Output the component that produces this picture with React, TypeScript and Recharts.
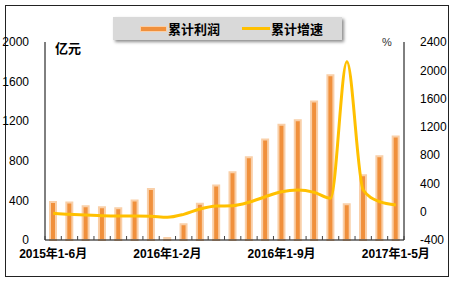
import { ComposedChart, Bar, Line, XAxis, YAxis } from "recharts";

const categories = [
  "2015年1-6月", "2015年1-7月", "2015年1-8月", "2015年1-9月", "2015年1-10月", "2015年1-11月", "2015年1-12月",
  "2016年1-2月", "2016年1-3月", "2016年1-4月", "2016年1-5月", "2016年1-6月", "2016年1-7月", "2016年1-8月",
  "2016年1-9月", "2016年1-10月", "2016年1-11月", "2016年1-12月",
  "2017年1-2月", "2017年1-3月", "2017年1-4月", "2017年1-5月",
];
const profit = [385, 380, 340, 330, 320, 400, 515, 20, 158, 365, 550, 685, 835, 1015, 1165, 1210, 1400, 1665, 362, 655, 845, 1045];
const growth = [-20, -37, -46, -56, -60, -60, -65, -79, -37, 38, 80, 85, 133, 212, 283, 307, 274, 190, 2120, 307, 142, 95];
const leftTicks = [0, 400, 800, 1200, 1600, 2000];
const rightTicks = [-400, 0, 400, 800, 1200, 1600, 2000, 2400];

const W = 459;
const H = 283;
const margin = { top: 42, right: 12, left: 5, bottom: 13 };
const LEFT_AXIS_W = 40;
const RIGHT_AXIS_W = 43;
const PLOT_W = W - margin.left - margin.right - LEFT_AXIS_W - RIGHT_AXIS_W;

const font = '"Liberation Sans", Arial, "Noto Sans CJK SC", sans-serif';
const barFill = "#F0903C";
const barEdge = "#F9CFA8";
const lineColor = "#FFC000";

const data = categories.map((c, i) => ({ c, profit: profit[i], growth: growth[i] }));

function XTick(props: any) {
  const { x, y, payload, index } = props;
  const half = PLOT_W / categories.length / 2;
  return (
    <g>
      <line x1={x - half} x2={x - half} y1={y - 4} y2={y} stroke="#404040" strokeWidth={1} />
      {index === categories.length - 1 && (
        <line x1={x + half} x2={x + half} y1={y - 4} y2={y} stroke="#404040" strokeWidth={1} />
      )}
      {index % 7 === 0 && (
        <text x={x} y={y + 18} textAnchor="middle" fontSize={12} fontWeight="bold" fill="#000" fontFamily={font}>
          {payload.value}
        </text>
      )}
    </g>
  );
}

function LegendBox() {
  return (
    <div
      style={{
        position: "absolute",
        left: 113,
        top: 17,
        width: 229,
        height: 23,
        background: "#D9D9D9",
        boxShadow: "2px 2px 3px rgba(0,0,0,0.45)",
        display: "flex",
        alignItems: "center",
        fontFamily: font,
        fontSize: 13,
        fontWeight: "bold",
        color: "#000",
      }}
    >
      <span style={{ marginLeft: 27, width: 25, height: 4, background: barFill, border: `1px solid ${barEdge}` }} />
      <span style={{ marginLeft: 1 }}>累计利润</span>
      <span style={{ marginLeft: 22, width: 28, height: 3, background: lineColor }} />
      <span style={{ marginLeft: 1 }}>累计增速</span>
    </div>
  );
}

export default function App() {
  return (
    <div style={{ position: "fixed", left: 0, top: 0, width: W, height: H, background: "#fff" }}>
      <div
        style={{
          position: "absolute",
          left: 5,
          top: 5,
          width: 442,
          height: 270,
          border: "1px solid #222",
        }}
      />
      <ComposedChart width={W} height={H} data={data} margin={margin}>
        <XAxis
          dataKey="c"
          interval={0}
          tick={<XTick />}
          tickLine={false}
          tickSize={0}
          tickMargin={0}
          axisLine={{ stroke: "#000" }}
          height={30}
        />
        <YAxis
          yAxisId="l"
          orientation="left"
          domain={[0, 2000]}
          ticks={leftTicks}
          width={LEFT_AXIS_W}
          tickLine={false}
          tickMargin={10}
          axisLine={{ stroke: "#000" }}
          tick={{ fill: "#000", fontSize: 12, fontFamily: font }}
        />
        <YAxis
          yAxisId="r"
          orientation="right"
          domain={[-400, 2400]}
          ticks={rightTicks}
          width={RIGHT_AXIS_W}
          tickLine={false}
          tickMargin={10}
          axisLine={{ stroke: "#000" }}
          tick={{ fill: "#000", fontSize: 12, fontFamily: font }}
        />
        <Bar
          yAxisId="l"
          dataKey="profit"
          name="累计利润"
          barSize={6}
          fill={barFill}
          stroke={barEdge}
          strokeWidth={2}
          isAnimationActive={false}
        />
        <Line
          yAxisId="r"
          type="monotone"
          dataKey="growth"
          name="累计增速"
          stroke={lineColor}
          strokeWidth={3}
          dot={false}
          isAnimationActive={false}
        />
      </ComposedChart>
      <LegendBox />
      <div style={{ position: "absolute", left: 55, top: 38, fontFamily: font, fontSize: 13, fontWeight: "bold" }}>亿元</div>
      <div style={{ position: "absolute", left: 382, top: 36, fontFamily: font, fontSize: 11, color: "#333" }}>%</div>
    </div>
  );
}
